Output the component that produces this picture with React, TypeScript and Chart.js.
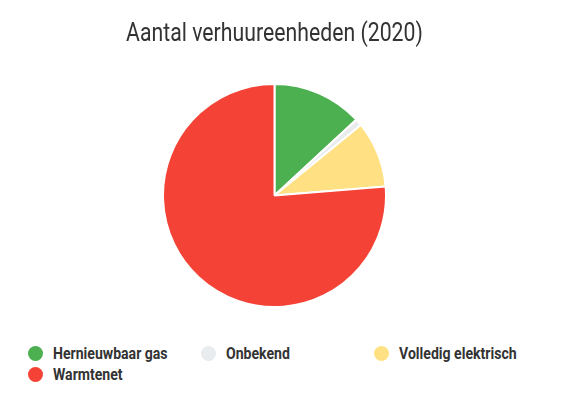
import React, { useEffect, useRef } from "react";
import { Chart, registerables } from "chart.js";

Chart.register(...registerables);

const categories = ["Hernieuwbaar gas", "Onbekend", "Volledig elektrisch", "Warmtenet"];
const units = [131, 10, 96, 763];
const colors = ["#4caf50", "#e9ecef", "#ffe082", "#f44336"];
const titleText = "Aantal verhuureenheden (2020)";

export default function App() {
  const canvasRef = useRef<HTMLCanvasElement | null>(null);

  useEffect(() => {
    if (!canvasRef.current) return;
    const chart = new Chart(canvasRef.current, {
      type: "pie",
      data: {
        labels: categories,
        datasets: [
          {
            data: units,
            backgroundColor: colors,
            borderColor: "#ffffff",
            borderWidth: 2,
          },
        ],
      },
      options: {
        animation: false,
        responsive: false,
        maintainAspectRatio: false,
        layout: { padding: { top: 83, bottom: 0, left: 0, right: 0 } },
        plugins: {
          legend: { display: false },
          tooltip: { enabled: false },
          title: { display: false },
        },
      },
    });
    return () => chart.destroy();
  }, []);

  return (
    <div
      style={{
        position: "fixed",
        left: 0,
        top: 0,
        width: 549,
        height: 401,
        background: "#ffffff",
        fontFamily: "Roboto, sans-serif",
      }}
    >
      <canvas ref={canvasRef} width={549} height={308} style={{ display: "block" }} />
      <div
        style={{
          position: "absolute",
          left: 0,
          top: 17,
          width: 549,
          textAlign: "center",
          fontSize: 25,
          lineHeight: "32px",
          color: "#333333",
          transform: "scaleX(0.85)",
          whiteSpace: "nowrap",
        }}
      >
        {titleText}
      </div>
      <div style={{ position: "absolute", left: 28, top: 343, width: 520 }}>
        {categories.map((name, i) => (
          <div
            key={name}
            style={{
              position: "absolute",
              left: (i % 3) * 173,
              top: Math.floor(i / 3) * 21,
              height: 20,
              display: "flex",
              alignItems: "center",
              whiteSpace: "nowrap",
            }}
          >
            <span
              style={{
                width: 15,
                height: 15,
                borderRadius: "50%",
                background: colors[i],
                display: "inline-block",
                marginRight: 10,
              }}
            />
            <span
              style={{
                fontWeight: 700,
                fontSize: 16,
                color: "#333333",
                display: "inline-block",
                transform: "scaleX(0.88)",
                transformOrigin: "left center",
              }}
            >
              {name}
            </span>
          </div>
        ))}
      </div>
    </div>
  );
}
